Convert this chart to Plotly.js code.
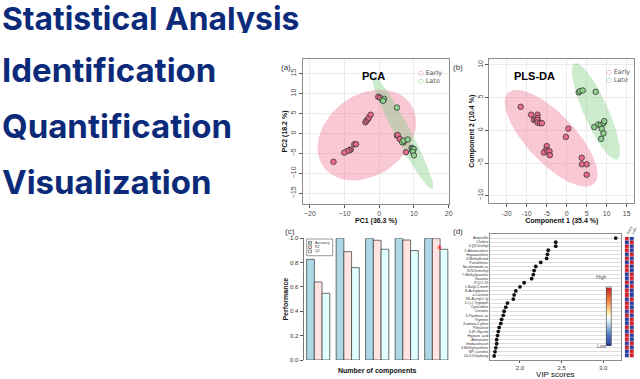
<!DOCTYPE html>
<html><head><meta charset="utf-8">
<script src="https://cdn.plot.ly/plotly-3.0.1.min.js"></script>
<style>html,body{margin:0;padding:0;background:#fff}#chart{width:640px;height:379px}</style>
</head><body><div id="chart"></div>
<script>
// ---------- data ----------
const headings = ['Statistical Analysis', 'Identification', 'Quantification', 'Visualization'];

const pcaEarlyX = [-0.3, 0.2, -4.0, -3.7, -3.3, -3.0, -2.5, 5.1, 5.3, 5.9, 7.0, 7.7, -7.2, -6.7, -8.2, -8.6, -9.2, -10.1, -13.2];
const pcaEarlyY = [9.2, 9.0, 2.8, 3.2, 3.6, 4.0, 4.7, -0.5, -0.4, -1.4, -2.2, -4.7, -2.7, -2.7, -4.0, -4.2, -4.4, -4.8, -7.1];
const pcaLateX = [0.8, 1.4, 1.1, 5.1, 6.6, 7.0, 8.2, 9.3, 9.6, 9.8, 9.5, 9.9, 9.7, 10.0];
const pcaLateY = [8.5, 8.7, 8.2, 6.5, -2.2, -1.8, -1.5, -3.6, -3.8, -4.1, -4.3, -3.9, -4.6, -5.5];

const plsEarlyX = [-11.5, -8.9, -8.2, -7.6, -7.3, -7.3, -7.3, -7.3, -6.7, -6.2, 0.4, -0.2, -5.0, -5.2, -5.7, -4.8, -4.3, -4.2, 3.75, 3.8, 5.0, 5.0];
const plsEarlyY = [3.6, 2.4, 1.6, 1.6, 2.4, 1.9, 1.6, 1.2, 1.1, 1.1, 0.26, -1.0, -2.4, -3.0, -3.4, -3.2, -3.2, -3.8, -4.2, -5.2, -5.2, -6.8];
const plsLateX = [3.0, 3.3, 4.0, 7.25, 6.9, 7.9, 8.5, 9.2, 9.4, 8.75, 9.2, 8.6];
const plsLateY = [5.8, 6.0, 6.1, 5.9, 0.5, 0.9, 0.8, 1.1, 1.4, 0.25, -0.46, -1.3];

// ellipse parameters: [centerX, centerY, semiMajor, semiMinor, angleDeg]
const pcaEllipseEarly = [-3.6, -0.4, 14.93, 10.43, 25.6];
const pcaEllipseLate = [6.75, 0.2, 16.6, 2.2, -58.6];
const plsEllipseEarly = [-3.9, -1.2, 13.03, 4.43, -28.95];
const plsEllipseLate = [7.3, 2.9, 9.14, 2.69, -52.1];

const components = ['1', '2', '3', '4', '5'];
const accuracy = [0.827, 1.0, 1.0, 1.0, 1.0];
const r2 = [0.641, 0.89, 0.984, 0.986, 0.997];
const q2 = [0.548, 0.759, 0.91, 0.899, 0.91];

const features = ['Ampicillin', 'Choline', '4-[(3-Diethyl', '5-Aminovaleric', 'Hypoxanthine', '3-Methylhistid',
  'Pantothenic', 'Nicotinamide ac', 'N,N-Dimethyl', '7-Methylguanine', 'Guanine', 'PC(O-16',
  '1-Butyl-2-meth', 'N-Acetylputres', 'a-Lactose', 'N6-Acetyl-L-ly', 'D-(+)-Tryptoph', 'Cytarabine',
  'Creatine', '4-Pyridoxic ac', 'Thymine', '3-amino-2-phen', 'Pirbuterol', '4-(F-Glycitol',
  'Hippuric acid', 'Adenosine', 'Imidazoleacet', '3-Methylxanthine', 'NP-Conofos', '20,3-Dihydroxy'];
const vipScores = [3.15, 2.43, 2.43, 2.34, 2.33, 2.32, 2.25, 2.19, 2.17, 2.16, 2.14, 2.05, 2.0, 1.95, 1.93,
  1.92, 1.85, 1.83, 1.81, 1.80, 1.78, 1.77, 1.75, 1.74, 1.73, 1.72, 1.72, 1.71, 1.70, 1.69];
const groups = ['Early', 'Late'];
const earlyLevel = [1, 0, 1, 1, 0, 1, 0, 1, 1, 0, 0, 1, 0, 1, 1, 0, 1, 1, 0, 1, 0, 0, 1, 0, 1, 1, 0, 1, 0, 0];
const lateLevel = [0, 1, 0, 0, 1, 0, 1, 0, 0, 1, 1, 0, 1, 0, 0, 1, 0, 0, 1, 0, 1, 1, 0, 1, 0, 0, 1, 0, 1, 1];

// ---------- helpers ----------
const W = 640, H = 379;
const px = v => v / W;
const py = v => 1 - v / H;

function ellipse(p) {
  const [cx, cy, a, b, deg] = p;
  const t = deg * Math.PI / 180;
  const xs = [], ys = [];
  for (let k = 0; k <= 120; k++) {
    const u = 2 * Math.PI * k / 120;
    xs.push(cx + a * Math.cos(u) * Math.cos(t) - b * Math.sin(u) * Math.sin(t));
    ys.push(cy + a * Math.cos(u) * Math.sin(t) + b * Math.sin(u) * Math.cos(t));
  }
  return {xs, ys};
}

const pinkFill = 'rgba(238,110,145,0.38)';
const greenFill = 'rgba(130,205,130,0.40)';
const earlyCol = '#ec6a8c', lateCol = '#8fd18f';

function ellTrace(p, fill, xa, ya) {
  const e = ellipse(p);
  return {type: 'scatter', mode: 'lines', x: e.xs, y: e.ys, fill: 'toself', fillcolor: fill,
    line: {width: 0}, xaxis: xa, yaxis: ya, showlegend: false, hoverinfo: 'skip'};
}
function ptTrace(x, y, col, xa, ya) {
  return {type: 'scatter', mode: 'markers', x, y, xaxis: xa, yaxis: ya, showlegend: false,
    marker: {size: 5.5, color: col, line: {color: '#333', width: 0.8}}};
}

const traces = [
  ellTrace(pcaEllipseEarly, pinkFill, 'x', 'y'),
  ellTrace(pcaEllipseLate, greenFill, 'x', 'y'),
  ptTrace(pcaEarlyX, pcaEarlyY, earlyCol, 'x', 'y'),
  ptTrace(pcaLateX, pcaLateY, lateCol, 'x', 'y'),
  ellTrace(plsEllipseEarly, pinkFill, 'x2', 'y2'),
  ellTrace(plsEllipseLate, greenFill, 'x2', 'y2'),
  ptTrace(plsEarlyX, plsEarlyY, earlyCol, 'x2', 'y2'),
  ptTrace(plsLateX, plsLateY, lateCol, 'x2', 'y2'),
  {type: 'bar', x: components, y: accuracy, name: 'Accuracy', xaxis: 'x3', yaxis: 'y3', cliponaxis: false,
    marker: {color: '#add8e6', line: {color: '#333', width: 0.7}}, showlegend: false},
  {type: 'bar', x: components, y: r2, name: 'R2', xaxis: 'x3', yaxis: 'y3', cliponaxis: false,
    marker: {color: '#ffe4e1', line: {color: '#333', width: 0.7}}, showlegend: false},
  {type: 'bar', x: components, y: q2, name: 'Q2', xaxis: 'x3', yaxis: 'y3', cliponaxis: false,
    marker: {color: '#e0ffff', line: {color: '#333', width: 0.7}}, showlegend: false},
  {type: 'scatter', mode: 'markers', x: vipScores, y: features, xaxis: 'x4', yaxis: 'y4', showlegend: false,
    marker: {size: 3.8, color: '#111'}},
  {type: 'heatmap', x: groups, y: features, z: features.map((f, i) => [earlyLevel[i], lateLevel[i]]),
    xaxis: 'x5', yaxis: 'y5', xgap: 1, ygap: 0.4, zmin: 0, zmax: 1,
    colorscale: [[0, '#2a3d9c'], [0.2, '#4f7fc2'], [0.42, '#d6ebf5'], [0.5, '#fbfbfb'], [0.58, '#fde7a0'], [0.8, '#ef7d3a'], [1, '#d01f2a']],
    colorbar: {x: px(609), xanchor: 'center', y: py(316.5), yanchor: 'middle', len: 58, lenmode: 'pixels',
      thickness: 4.5, thicknessmode: 'pixels', outlinewidth: 0.6, outlinecolor: '#333', showticklabels: false,
      ticks: '', xpad: 0, ypad: 0}}
];

const tickFont = {family: 'Liberation Sans, Arial, sans-serif', size: 7, color: '#4d4d4d'};
const titleFont = {family: 'Liberation Sans, Arial, sans-serif', size: 7, color: '#111', weight: 700};

function scatterAxis(dom, anchor, range, dtick, title, isY, extra) {
  return Object.assign({domain: dom, anchor, range, dtick, tick0: 0, showline: true, mirror: true, linecolor: '#8c8c8c',
    linewidth: 1, showgrid: true, gridcolor: '#ebebeb', gridwidth: 1, zeroline: false, ticks: 'outside',
    ticklen: 3, tickcolor: '#555', tickfont: tickFont, tickangle: isY ? -90 : 0,
    title: {text: title, font: titleFont, standoff: 1}}, extra || {});
}

const ann = [];
const headY = [18.5, 70, 126, 182];
const headSize = [31.8, 33, 33, 33];
headings.forEach((h, i) => ann.push({text: h, x: 0, y: py(headY[i]), xref: 'paper', yref: 'paper',
  xanchor: 'left', yanchor: 'middle', showarrow: false, height: 30, valign: 'middle',
  font: {family: 'Inter, Roboto, sans-serif', size: headSize[i], color: '#0b2b7a', weight: 700}}));
[['(a)', 286, 61], ['(b)', 465, 61], ['(c)', 290, 231], ['(d)', 465, 231]].forEach(a => ann.push({
  text: a[0], x: px(a[1]), y: py(a[2]), xref: 'paper', yref: 'paper', showarrow: false,
  font: {family: 'Liberation Sans, Arial', size: 8, color: '#333'}}));
[['PCA', 373, 68], ['PLS-DA', 557, 68]].forEach(a => ann.push({
  text: a[0], x: px(a[1]), y: py(a[2]), xref: 'paper', yref: 'paper', showarrow: false,
  font: {family: 'Liberation Sans, Arial', size: 11, color: '#000', weight: 700}}));
[[416, 67, 'Early', '#f0648a'], [416, 75, 'Late', '#5cbf5c'], [604, 66, 'Early', '#f0648a'], [604, 74, 'Late', '#5cbf5c']].forEach(a => ann.push({
  text: '<span style="color:' + a[3] + '">○</span> ' + a[2], x: px(a[0]), y: py(a[1]), xref: 'paper', yref: 'paper',
  xanchor: 'left', showarrow: false, font: {family: 'DejaVu Sans, sans-serif', size: 6.5, color: '#555'}}));
ann.push({text: 'High', x: px(609), y: py(282), xref: 'paper', yref: 'paper', showarrow: false,
  font: {family: 'Liberation Sans, Arial', size: 5, color: '#555'}});
ann.push({text: 'Low', x: px(609), y: py(351), xref: 'paper', yref: 'paper', showarrow: false,
  font: {family: 'Liberation Sans, Arial', size: 5, color: '#555'}});
ann.push({text: '*', x: px(443.5), y: py(249), xref: 'paper', yref: 'paper', showarrow: false,
  font: {family: 'Liberation Sans, Arial', size: 13, color: '#ff2020'}});
// bar legend
const barLegend = [['Accuracy', '#add8e6'], ['R2', '#ffe4e1'], ['Q2', '#e0ffff']];
const shapes = [{type: 'rect', xref: 'paper', yref: 'paper', x0: px(306.7), x1: px(332.7), y0: py(255.7), y1: py(239),
  line: {color: '#555', width: 0.6}, fillcolor: 'rgba(255,255,255,0)'}];
barLegend.forEach((b, i) => {
  const yc = 242.8 + i * 4.3;
  shapes.push({type: 'rect', xref: 'paper', yref: 'paper', x0: px(308.5), x1: px(311.5), y0: py(yc + 1.4), y1: py(yc - 1.4),
    line: {color: '#333', width: 0.5}, fillcolor: b[1]});
  ann.push({text: b[0], x: px(313), y: py(yc), xref: 'paper', yref: 'paper', xanchor: 'left', showarrow: false,
    font: {family: 'Liberation Sans, Arial', size: 3.5, color: '#333'}});
});

const layout = {
  width: W, height: H, margin: {l: 0, r: 0, t: 0, b: 0}, paper_bgcolor: '#fff', plot_bgcolor: 'rgba(0,0,0,0)',
  showlegend: false, barmode: 'group', bargap: 0.215, bargroupgap: 0,
  xaxis: scatterAxis([px(303), px(449)], 'y', [-22, 20.1], 10, 'PC1 (36.3 %)', false),
  yaxis: scatterAxis([py(204), py(59)], 'x', [-17.7, 18.7], 5, 'PC2 (18.2 %)', true),
  xaxis2: scatterAxis([px(489.3), px(634.3)], 'y2', [-19.35, 16.9], 5, 'Component 1 (35.4 %)', false,
    {tickmode: 'array', tickvals: [-15, -10, -5, 0, 5, 10, 15], ticktext: ['-20', '-10', '-5', '0', '5', '10', '15']}),
  yaxis2: scatterAxis([py(203.3), py(59.3)], 'x2', [-11.16, 10.87], 5, 'Component 2 (10.4 %)', true),
  xaxis3: {domain: [px(303.45), px(451)], anchor: 'y3', type: 'category', range: [-0.5, 4.5], showline: false, showgrid: false,
    showticklabels: false, ticks: '', zeroline: false,
    title: {text: 'Number of components', font: titleFont, standoff: 8}},
  yaxis3: {domain: [py(360), py(238.3)], anchor: 'x3', range: [0, 1], dtick: 0.2, tickformat: '.1f', showline: true,
    linecolor: '#555', linewidth: 0.8, showgrid: false, zeroline: false, ticks: 'outside', ticklen: 3, tickcolor: '#555',
    tickfont: {family: 'Liberation Sans, Arial', size: 6, color: '#333'},
    title: {text: 'Performance', font: titleFont, standoff: 0}},
  xaxis4: {domain: [px(490), px(620.7)], anchor: 'y4', range: [1.64, 3.21], dtick: 0.5, tick0: 0, tickformat: '.1f',
    showline: true, mirror: true, linecolor: '#8c8c8c', linewidth: 1, showgrid: false, zeroline: false,
    ticks: 'outside', ticklen: 1.5, tickcolor: '#555', tickfont: {family: 'Liberation Sans, Arial', size: 6, color: '#333'},
    title: {text: 'VIP scores', font: {family: 'Liberation Sans, Arial', size: 8, color: '#111'}, standoff: 1}},
  yaxis4: {domain: [py(360), py(234)], anchor: 'x4', type: 'category', range: [30, -1], showline: true, mirror: true,
    linecolor: '#8c8c8c', linewidth: 1, showgrid: true, gridcolor: '#dedede', gridwidth: 1, zeroline: false,
    ticks: '', tickfont: {family: 'Liberation Sans, Arial', size: 3.6, color: '#333'}},
  xaxis5: {domain: [px(624.7), px(634.3)], side: 'top', anchor: 'y5', showline: false, showgrid: false, zeroline: false,
    ticks: '', tickangle: -60, tickfont: {family: 'Liberation Sans, Arial', size: 3.5, color: '#333'}},
  yaxis5: {domain: [py(357.7), py(236.7)], type: 'category', anchor: 'x5', range: [29.5, -0.5],
    showticklabels: false, showline: false, showgrid: false, zeroline: false, ticks: ''},
  annotations: ann, shapes: shapes
};

Plotly.newPlot('chart', traces, layout, {staticPlot: true});
</script></body></html>
